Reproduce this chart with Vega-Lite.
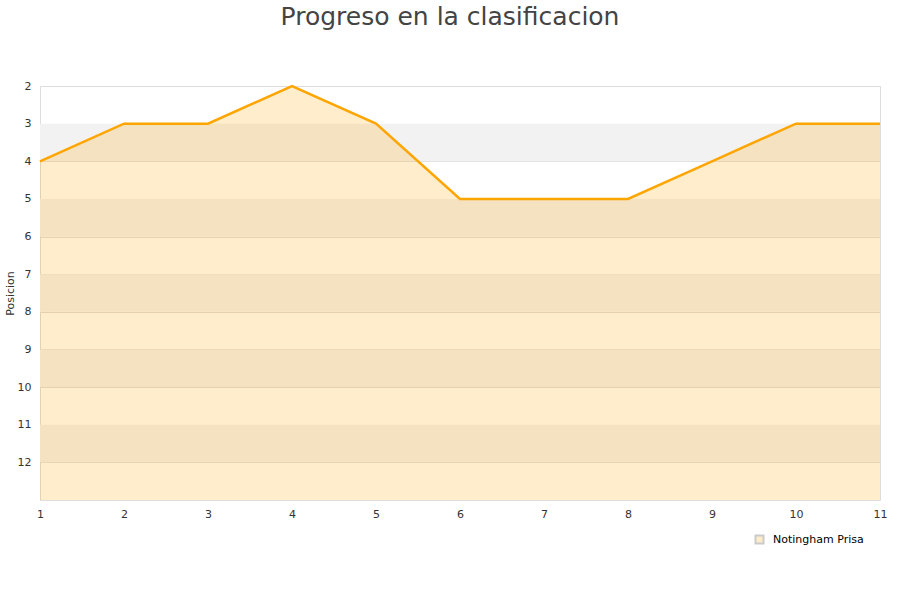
{
  "$schema": "https://vega.github.io/schema/vega-lite/v6.json",
  "autosize": {"type": "none"},
  "width": 840,
  "height": 414,
  "padding": {"left": 40, "top": 86, "right": 20, "bottom": 100},
  "background": "white",
  "title": {
    "text": "Progreso en la clasificacion",
    "fontSize": 25,
    "font": "DejaVu Sans",
    "fontWeight": "normal",
    "color": "#444444",
    "anchor": "middle",
    "frame": "group",
    "dx": -10,
    "offset": 50
  },
  "config": {
    "view": {"stroke": "#dddddd"},
    "font": "DejaVu Sans",
    "axisY": {"labelOverlap": false, "labelBound": false}
  },
  "datasets": {
    "pos": [
      {"jornada": 1, "posicion": 4, "equipo": "Notingham Prisa"},
      {"jornada": 2, "posicion": 3, "equipo": "Notingham Prisa"},
      {"jornada": 3, "posicion": 3, "equipo": "Notingham Prisa"},
      {"jornada": 4, "posicion": 2, "equipo": "Notingham Prisa"},
      {"jornada": 5, "posicion": 3, "equipo": "Notingham Prisa"},
      {"jornada": 6, "posicion": 5, "equipo": "Notingham Prisa"},
      {"jornada": 7, "posicion": 5, "equipo": "Notingham Prisa"},
      {"jornada": 8, "posicion": 5, "equipo": "Notingham Prisa"},
      {"jornada": 9, "posicion": 4, "equipo": "Notingham Prisa"},
      {"jornada": 10, "posicion": 3, "equipo": "Notingham Prisa"},
      {"jornada": 11, "posicion": 3, "equipo": "Notingham Prisa"}
    ],
    "bands": [
      {"desde": 3, "hasta": 4},
      {"desde": 5, "hasta": 6},
      {"desde": 7, "hasta": 8},
      {"desde": 9, "hasta": 10},
      {"desde": 11, "hasta": 12}
    ]
  },
  "layer": [
    {
      "data": {"name": "bands"},
      "mark": {"type": "rect", "fill": "#f2f2f2"},
      "encoding": {
        "y": {
          "field": "desde", "type": "quantitative",
          "scale": {"domain": [2, 13], "reverse": true, "nice": false, "zero": false},
          "axis": {"title": "Posicion", "titleFontSize": 11, "titleFontWeight": "normal", "titleColor": "#333333", "titlePadding": 2, "values": [2,3,4,5,6,7,8,9,10,11,12], "tickCount": 11, "format": "d", "labelOverlap": false, "ticks": false, "domain": false, "grid": true, "gridColor": "#dddddd", "labelFontSize": 11, "labelColor": "#333333", "labelPadding": 9}
        },
        "y2": {"field": "hasta"}
      }
    },
    {
      "data": {"name": "pos"},
      "mark": {"type": "area", "fillOpacity": 0.2, "interpolate": "linear"},
      "encoding": {
        "x": {
          "field": "jornada", "type": "quantitative",
          "scale": {"domain": [1, 11], "nice": false, "zero": false},
          "axis": {"title": null, "values": [1,2,3,4,5,6,7,8,9,10,11], "format": "d", "ticks": false, "domain": false, "grid": false, "labelFontSize": 11, "labelColor": "#333333", "labelPadding": 8, "labelFlush": false}
        },
        "y": {
          "field": "posicion", "type": "quantitative",
          "scale": {"domain": [2, 13], "reverse": true, "nice": false, "zero": false},
          "axis": {"title": "Posicion", "titleFontSize": 11, "titleFontWeight": "normal", "titleColor": "#333333", "titlePadding": 2, "values": [2,3,4,5,6,7,8,9,10,11,12], "tickCount": 11, "format": "d", "labelOverlap": false, "ticks": false, "domain": false, "grid": true, "gridColor": "#dddddd", "labelFontSize": 11, "labelColor": "#333333", "labelPadding": 9}
        },
        "y2": {"datum": 13},
        "color": {
          "field": "equipo", "type": "nominal",
          "scale": {"range": ["#FFA500"]},
          "legend": {
            "title": null,
            "orient": "none",
            "legendX": 714,
            "legendY": 448,
            "symbolType": "square",
            "symbolSize": 64,
            "symbolOpacity": 0.2,
            "symbolStrokeColor": "#000000",
            "symbolStrokeWidth": 2,
            "labelFontSize": 11,
            "labelColor": "#000000",
            "labelOffset": 8
          }
        }
      }
    },
    {
      "data": {"name": "pos"},
      "mark": {"type": "line", "color": "#FFA500", "strokeWidth": 2.5},
      "encoding": {
        "x": {"field": "jornada", "type": "quantitative"},
        "y": {"field": "posicion", "type": "quantitative"}
      }
    }
  ]
}
